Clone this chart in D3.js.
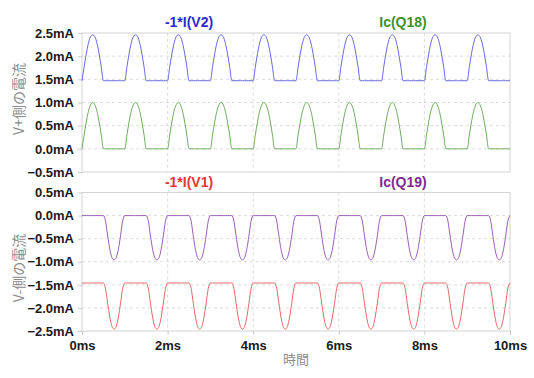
<!DOCTYPE html>
<html>
<head>
<meta charset="utf-8">
<script src="https://cdn.jsdelivr.net/npm/d3@7"></script>
<style>
  body { margin: 0; background: #fff; }
  svg { font-family: "Liberation Sans", Arial, sans-serif; }
  .tick text { font-size: 13px; font-weight: bold; fill: #1a1a1a; }
  .axis path { display: none; }
  .axis line { stroke: #ccc; }
</style>
</head>
<body>
<div id="chart"></div>
<script>
var sampleStep = 0.05;
var cycles = 10;
var xTicks = [0, 2, 4, 6, 8, 10];
var xTickLabels = ["0ms", "2ms", "4ms", "6ms", "8ms", "10ms"];
var topTicks = [-0.5, 0.0, 0.5, 1.0, 1.5, 2.0, 2.5];
var botTicks = [-2.5, -2.0, -1.5, -1.0, -0.5, 0.0, 0.5];

var v2Cycle = [1.47, 1.77, 2.05, 2.28, 2.42, 2.46, 2.42, 2.28, 2.05, 1.77, 1.47,
               1.47, 1.47, 1.47, 1.47, 1.47, 1.47, 1.47, 1.47, 1.47, 1.47];
var q18Cycle = [0.00, 0.30, 0.58, 0.81, 0.95, 1.00, 0.95, 0.81, 0.58, 0.30, 0.00,
                0.00, 0.00, 0.00, 0.00, 0.00, 0.00, 0.00, 0.00, 0.00, 0.00];
var v1Cycle = [-1.46, -1.46, -1.46, -1.46, -1.46, -1.46, -1.46, -1.46, -1.46, -1.46,
               -1.46, -1.58, -1.90, -2.20, -2.40, -2.46, -2.40, -2.20, -1.90, -1.58, -1.46];
var q19Cycle = [0.00, 0.00, 0.00, 0.00, 0.00, 0.00, 0.00, 0.00, 0.00, 0.00,
                0.00, -0.12, -0.44, -0.73, -0.91, -0.96, -0.91, -0.73, -0.44, -0.12, 0.00];

// repeat the read period over the whole 10ms
function buildSeries(cycle) {
  var pts = [];
  for (var c = 0; c < cycles; c++) {
    for (var i = 0; i < cycle.length - 1; i++) {
      pts.push({ t: c + i * sampleStep, v: cycle[i] });
    }
  }
  pts.push({ t: cycles, v: cycle[cycle.length - 1] });
  return pts;
}

var width = 534, height = 378;
var left = 82, right = 510;

var svg = d3.select("#chart").append("svg")
  .attr("width", width)
  .attr("height", height);

var x = d3.scaleLinear().domain([0, 10]).range([left, right]);

var panels = [
  { ticks: topTicks, domain: [-0.5, 2.5], range: [172, 33], label: "V+側の電流", labelY: 99,
    titleY: 27,
    series: [
      { name: "-1*I(V2)", data: v2Cycle, line: "#6868dc", text: "#2b2bd0", pos: 0.25 },
      { name: "Ic(Q18)", data: q18Cycle, line: "#6eac5e", text: "#3f8f2f", pos: 0.75 }
    ] },
  { ticks: botTicks, domain: [-2.5, 0.5], range: [331, 192.5], label: "V-側の電流", labelY: 268,
    titleY: 187,
    series: [
      { name: "-1*I(V1)", data: v1Cycle, line: "#e46868", text: "#e53535", pos: 0.25 },
      { name: "Ic(Q19)", data: q19Cycle, line: "#9c5eb6", text: "#7d2a8f", pos: 0.75 }
    ] }
];

panels.forEach(function(p, idx) {
  var y = d3.scaleLinear().domain(p.domain).range(p.range);
  var g = svg.append("g");

  // horizontal grid
  g.selectAll(".hgrid")
    .data(p.ticks.slice(1, -1))
    .enter().append("line")
    .attr("x1", left).attr("x2", right)
    .attr("y1", d => y(d)).attr("y2", d => y(d))
    .attr("stroke", "#dcdcdc")
    .attr("stroke-dasharray", "3,3");

  // vertical grid
  g.selectAll(".vgrid")
    .data(xTicks.slice(1, -1))
    .enter().append("line")
    .attr("x1", d => x(d)).attr("x2", d => x(d))
    .attr("y1", p.range[1]).attr("y2", p.range[0])
    .attr("stroke", "#dcdcdc")
    .attr("stroke-dasharray", "3,3");

  // frame
  g.append("rect")
    .attr("x", left).attr("y", p.range[1])
    .attr("width", right - left).attr("height", p.range[0] - p.range[1])
    .attr("fill", "none")
    .attr("stroke", "#d4d4d4");

  g.append("g")
    .attr("class", "axis")
    .attr("transform", `translate(${left},0)`)
    .call(d3.axisLeft(y).tickValues(p.ticks).tickSize(4).tickPadding(4)
      .tickFormat(d => d3.format(".1f")(d) + "mA"));

  var line = d3.line()
    .x(d => x(d.t))
    .y(d => y(d.v))
    .curve(d3.curveMonotoneX);

  p.series.forEach(function(s) {
    g.append("path")
      .datum(buildSeries(s.data))
      .attr("fill", "none")
      .attr("stroke", s.line)
      .attr("stroke-width", 1)
      .attr("d", line);

    g.append("text")
      .attr("x", left + (right - left) * s.pos)
      .attr("y", p.titleY)
      .attr("text-anchor", "middle")
      .attr("font-size", "14px")
      .attr("font-weight", "bold")
      .attr("fill", s.text)
      .text(s.name);
  });

  g.append("text")
    .attr("transform", `translate(24,${p.labelY}) rotate(-90)`)
    .attr("text-anchor", "middle")
    .attr("font-family", "'Noto Sans CJK JP', sans-serif")
    .attr("font-size", "14px")
    .attr("fill", "#8c8c8c")
    .text(p.label);

  if (idx === 1) {
    g.append("g")
      .attr("class", "axis")
      .attr("transform", `translate(0,${p.range[0]})`)
      .call(d3.axisBottom(x).tickValues(xTicks).tickSize(4).tickPadding(6)
        .tickFormat((d, i) => xTickLabels[i]));
  }
});

svg.append("text")
  .attr("x", (left + right) / 2)
  .attr("y", 364)
  .attr("text-anchor", "middle")
  .attr("font-family", "'Noto Sans CJK JP', sans-serif")
  .attr("font-size", "13px")
  .attr("fill", "#8c8c8c")
  .text("時間");
</script>
</body>
</html>
